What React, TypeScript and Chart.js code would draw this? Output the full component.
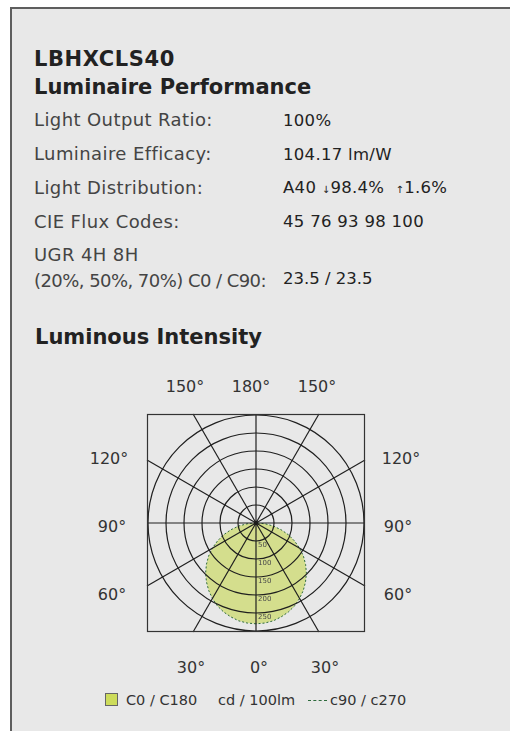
import React, { useEffect, useRef } from "react";
import { Chart, registerables } from "chart.js";

Chart.register(...registerables);

// ---- data ----
const GAMMA = [0, 5, 10, 15, 20, 25, 30, 35, 40, 45, 50, 55, 60, 65, 70, 75, 80, 85, 90, 95, 100, 105, 110, 115, 120, 125, 130, 135, 140, 145, 150, 155, 160, 165, 170, 175, 180];
const C0 = [280, 279, 276, 270, 263, 254, 242, 229, 214, 198, 180, 161, 140, 118, 96, 72, 49, 25, 3, 1, 1, 1, 1, 1, 1, 1, 1, 1, 1, 1, 1, 1, 1, 1, 1, 1, 1];
const C180 = [280, 279, 276, 270, 263, 254, 242, 229, 214, 198, 180, 161, 140, 118, 96, 72, 49, 25, 3, 1, 1, 1, 1, 1, 1, 1, 1, 1, 1, 1, 1, 1, 1, 1, 1, 1, 1];
const C90 = [280, 279, 276, 270, 263, 254, 242, 229, 214, 198, 180, 161, 140, 118, 96, 72, 49, 25, 3, 1, 1, 1, 1, 1, 1, 1, 1, 1, 1, 1, 1, 1, 1, 1, 1, 1, 1];
const C270 = [280, 279, 276, 270, 263, 254, 242, 229, 214, 198, 180, 161, 140, 118, 96, 72, 49, 25, 3, 1, 1, 1, 1, 1, 1, 1, 1, 1, 1, 1, 1, 1, 1, 1, 1, 1, 1];
const RADIAL_TICKS = [50, 100, 150, 200, 250];
const R_MAX = 300;
const R_STEP = 50;
const SPOKE_STEP = 30;

const ROWS = [
  ["Light Output Ratio:", "100%"],
  ["Luminaire Efficacy:", "104.17 lm/W"],
  ["Light Distribution:", "A40"],
  ["CIE Flux Codes:", "45 76 93 98 100"],
];
const DIST_DOWN = "98.4%";
const DIST_UP = "1.6%";
const UGR_LABEL_1 = "UGR 4H 8H";
const UGR_LABEL_2 = "(20%, 50%, 70%) C0 / C90:";
const UGR_VALUE = "23.5 / 23.5";

const FONT = "'DejaVu Sans', sans-serif";
const FILL = "#d4de8d";
const DASH = "#2d6a3c";
const LINE = "#1f1f1f";

// full-circle tables for the radar scale (index 0 = 0° pointing down)
const LABELS = [...GAMMA, ...GAMMA.slice(1, -1).reverse().map((g) => 360 - g)];
const DATA_C0_C180 = [...C0, ...C180.slice(1, -1).reverse()];
const DATA_C90_C270 = [...C90, ...C270.slice(1, -1).reverse()];

const T = ({ x, b, size, weight = 400, color = "#333", ls = 0, children, center = false }: any) => (
  <div
    style={{
      position: "absolute",
      left: x,
      top: b - 0.846 * size,
      fontFamily: FONT,
      fontSize: size,
      lineHeight: `${size}px`,
      fontWeight: weight,
      color,
      letterSpacing: ls,
      whiteSpace: "nowrap",
      transform: center ? "translateX(-50%)" : undefined,
    }}
  >
    {children}
  </div>
);

const polarDecor = {
  id: "polarDecor",
  afterDraw(chart: any) {
    const s = chart.scales.r;
    const ctx = chart.ctx;
    const cx = s.xCenter;
    const cy = s.yCenter;
    const half = s.getDistanceFromCenterForValue(R_MAX) + 1;
    ctx.save();
    ctx.strokeStyle = LINE;
    ctx.lineWidth = 1.2;
    chart.data.labels.forEach((g: number, i: number) => {
      if (g % SPOKE_STEP !== 0) return;
      const a = s.getIndexAngle(i) - Math.PI / 2;
      const d = half / Math.max(Math.abs(Math.cos(a)), Math.abs(Math.sin(a)));
      const p = s.getPointPosition(i, d);
      ctx.beginPath();
      ctx.moveTo(cx, cy);
      ctx.lineTo(p.x, p.y);
      ctx.stroke();
    });
    ctx.strokeStyle = "#333";
    ctx.lineWidth = 1.2;
    ctx.strokeRect(cx - half + 0.5, cy - half + 0.5, 2 * half - 1, 2 * half - 1);
    ctx.fillStyle = "#1a1a1a";
    ctx.beginPath();
    ctx.arc(cx, cy, 2.2, 0, Math.PI * 2);
    ctx.fill();
    ctx.font = `7px ${FONT}`;
    ctx.fillStyle = "#4a4a4a";
    ctx.textAlign = "left";
    ctx.textBaseline = "middle";
    RADIAL_TICKS.forEach((v) => {
      ctx.fillText(String(v), cx + 2, cy + s.getDistanceFromCenterForValue(v) + 4);
    });
    ctx.restore();
  },
};

function Polar() {
  const ref = useRef<HTMLCanvasElement>(null);
  useEffect(() => {
    const chart = new Chart(ref.current as HTMLCanvasElement, {
      type: "radar",
      data: {
        labels: LABELS,
        datasets: [
          {
            label: "C0 / C180",
            data: DATA_C0_C180,
            backgroundColor: FILL,
            borderColor: "rgba(0,0,0,0)",
            borderWidth: 0,
            fill: true,
            pointRadius: 0,
            order: 1,
          },
          {
            label: "c90 / c270",
            data: DATA_C90_C270,
            backgroundColor: "rgba(0,0,0,0)",
            borderColor: DASH,
            borderWidth: 1,
            borderDash: [2, 2],
            fill: false,
            pointRadius: 0,
            order: 0,
          },
        ],
      },
      options: {
        responsive: false,
        animation: false,
        layout: { padding: 2 },
        plugins: { legend: { display: false }, tooltip: { enabled: false } },
        elements: { line: { tension: 0 } },
        scales: {
          r: {
            min: 0,
            max: R_MAX,
            startAngle: 180,
            ticks: { display: false, stepSize: R_STEP },
            grid: { circular: true, color: LINE, lineWidth: 1.2, z: 1 },
            angleLines: { display: false },
            pointLabels: { display: false },
          },
        },
      } as any,
      plugins: [polarDecor],
    });
    return () => chart.destroy();
  }, []);
  return <canvas ref={ref} width={220} height={220} style={{ position: "absolute", left: 146, top: 413 }} />;
}

export default function App() {
  const rowB = [126.5, 160.5, 194, 228];
  const angleLbl = (txt: string, cx: number, b: number) => (
    <T x={cx} b={b} size={16} color="#333" center>
      {txt}
    </T>
  );
  return (
    <div style={{ position: "absolute", left: 0, top: 0, width: 510, height: 731, overflow: "hidden", background: "#fff" }}>
      <div
        style={{
          position: "absolute",
          left: 10,
          top: 7,
          width: 600,
          height: 800,
          borderTop: "2px solid #5e5e5e",
          borderLeft: "2px solid #5e5e5e",
          background: "#e8e8e8",
        }}
      />
      <T x={34} b={66.5} size={21} weight={700} color="#222" ls={0.6}>
        LBHXCLS40
      </T>
      <T x={34} b={95} size={21} weight={700} color="#222">
        Luminaire Performance
      </T>
      {ROWS.map((r, i) => (
        <React.Fragment key={i}>
          <T x={34} b={rowB[i]} size={18} color="#444" ls={0.4}>
            {r[0]}
          </T>
          <T x={283} b={rowB[i]} size={16.5} color="#222" ls={0.3}>
            {i === 2 ? (
              <>
                {r[1]} <span style={{ fontSize: 10 }}>↓</span>
                {DIST_DOWN}
                {"\u00a0\u00a0"}
                <span style={{ fontSize: 10 }}>↑</span>
                {DIST_UP}
              </>
            ) : (
              r[1]
            )}
          </T>
        </React.Fragment>
      ))}
      <T x={34} b={261.5} size={18} color="#444" ls={0.4}>
        {UGR_LABEL_1}
      </T>
      <T x={34} b={287.5} size={18} color="#444" ls={-0.55}>
        {UGR_LABEL_2}
      </T>
      <T x={283} b={285} size={16.5} color="#222">
        {UGR_VALUE}
      </T>
      <T x={35} b={345} size={21} weight={700} color="#222">
        Luminous Intensity
      </T>

      {angleLbl("150°", 185, 393)}
      {angleLbl("180°", 251, 393)}
      {angleLbl("150°", 317, 393)}
      {angleLbl("120°", 109, 465)}
      {angleLbl("120°", 401, 465)}
      {angleLbl("90°", 112, 533)}
      {angleLbl("90°", 398, 533)}
      {angleLbl("60°", 112, 600.5)}
      {angleLbl("60°", 398, 600.5)}
      {angleLbl("30°", 191, 674)}
      {angleLbl("0°", 259, 674)}
      {angleLbl("30°", 325, 674)}

      <Polar />

      <div
        style={{
          position: "absolute",
          left: 105,
          top: 693,
          width: 11,
          height: 11,
          background: "#cddc5b",
          border: "1px solid #666",
        }}
      />
      <T x={126} b={705} size={14.5} color="#333">
        C0 / C180
      </T>
      <T x={218} b={705} size={14.5} color="#333">
        cd / 100lm
      </T>
      <div
        style={{
          position: "absolute",
          left: 308,
          top: 700,
          width: 19,
          height: 0,
          borderTop: `1px dashed ${DASH}`,
        }}
      />
      <T x={330} b={705} size={14.5} color="#333">
        c90 / c270
      </T>
    </div>
  );
}
